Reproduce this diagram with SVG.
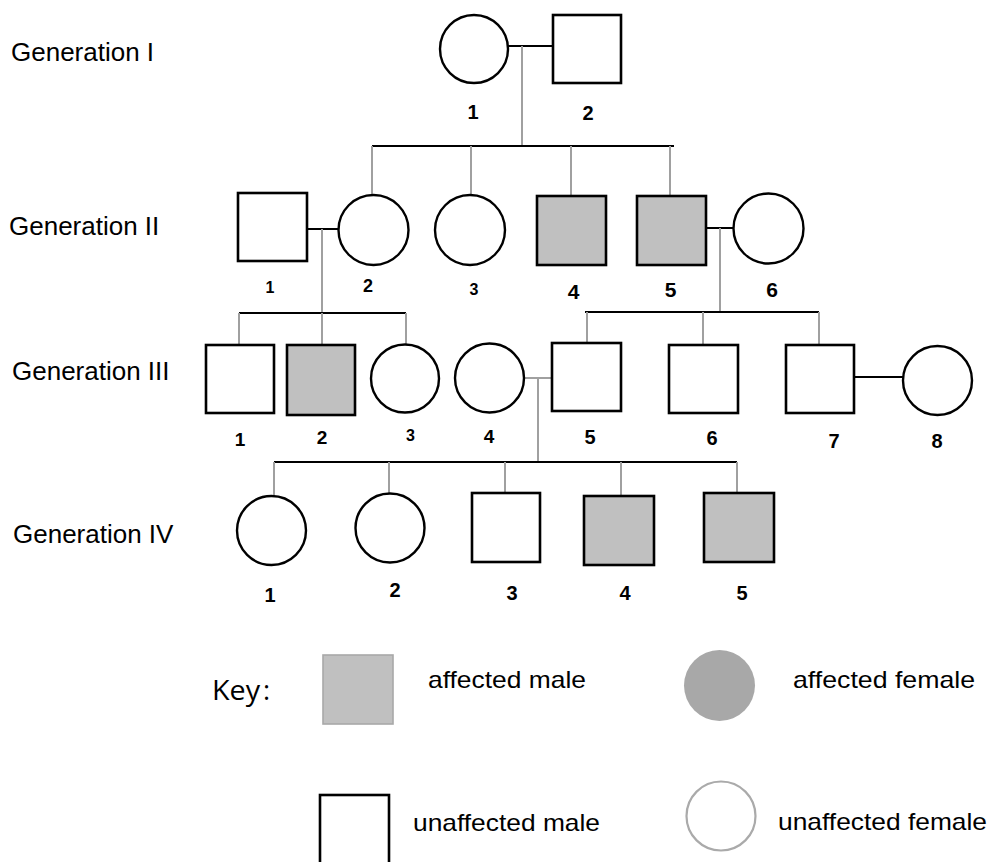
<svg xmlns="http://www.w3.org/2000/svg" width="990" height="862" viewBox="0 0 990 862">
<style>
.bg{fill:#ffffff}
.m{fill:#ffffff;stroke:#000;stroke-width:2.6}
.a{fill:#c0c0c0;stroke:#000;stroke-width:2.6}
.f{fill:#ffffff;stroke:#000;stroke-width:2.4}
.cp{stroke:#000;stroke-width:2;fill:none}
.sib{stroke:#000;stroke-width:2;fill:none}
.ch{stroke:#a0a0a0;stroke-width:2;fill:none}
.gen{font-family:"Liberation Sans",Arial,sans-serif;font-size:26px;fill:#000}
.num{font-family:"Liberation Sans",Arial,sans-serif;font-weight:bold;fill:#000;text-anchor:middle}
.key{font-family:"Liberation Sans",Arial,sans-serif;font-size:24px;fill:#000}
.keyt{font-family:"Open Sans","DejaVu Sans",sans-serif;font-size:27px;fill:#000}
</style>
<rect class="bg" x="0" y="0" width="990" height="862"/>

<g id="generation-labels">
<text class="gen" x="11" y="61">Generation I</text>
<text class="gen" x="9" y="235">Generation II</text>
<text class="gen" x="12" y="380">Generation III</text>
<text class="gen" x="13" y="543">Generation IV</text>
</g>

<g id="connectors">
<!-- Generation I -->
<line class="cp" x1="508" y1="46" x2="553" y2="46"/>
<line class="ch" x1="522" y1="46" x2="522" y2="146"/>
<line class="sib" x1="372" y1="146" x2="674" y2="146"/>
<line class="ch" x1="372" y1="146" x2="372" y2="195"/>
<line class="ch" x1="471" y1="146" x2="471" y2="195"/>
<line class="ch" x1="571" y1="146" x2="571" y2="196"/>
<line class="ch" x1="670" y1="146" x2="670" y2="196"/>
<!-- Generation II couple 1-2 -->
<line class="cp" x1="304" y1="229" x2="339" y2="229"/>
<line class="ch" x1="322" y1="229" x2="322" y2="313"/>
<line class="sib" x1="239" y1="313" x2="406" y2="313"/>
<line class="ch" x1="239" y1="313" x2="239" y2="345"/>
<line class="ch" x1="322" y1="313" x2="322" y2="345"/>
<line class="ch" x1="406" y1="313" x2="406" y2="345"/>
<!-- Generation II couple 5-6 -->
<line class="cp" x1="703" y1="228" x2="734" y2="228"/>
<line class="ch" x1="720" y1="228" x2="720" y2="312"/>
<line class="sib" x1="585" y1="312" x2="819" y2="312"/>
<line class="ch" x1="587" y1="312" x2="587" y2="343"/>
<line class="ch" x1="703" y1="312" x2="703" y2="345"/>
<line class="ch" x1="819" y1="312" x2="819" y2="345"/>
<!-- Generation III couple 4-5 -->
<line class="ch" x1="524" y1="378" x2="552" y2="378"/>
<line class="ch" x1="538" y1="378" x2="538" y2="462"/>
<line class="sib" x1="274" y1="462" x2="737" y2="462"/>
<line class="ch" x1="274" y1="462" x2="274" y2="496"/>
<line class="ch" x1="389" y1="462" x2="389" y2="494"/>
<line class="ch" x1="505" y1="462" x2="505" y2="493"/>
<line class="ch" x1="621" y1="462" x2="621" y2="496"/>
<line class="ch" x1="737" y1="462" x2="737" y2="493"/>
<!-- Generation III couple 7-8 -->
<line class="cp" x1="852" y1="377" x2="903" y2="377"/>
</g>

<!-- Generation I -->
<g id="I-1"><circle class="f" cx="474" cy="49" r="34"/><text class="num" x="473" y="119" font-size="20">1</text></g>
<g id="I-2"><rect class="m" x="553" y="15" width="68" height="68"/><text class="num" x="588" y="120" font-size="20">2</text></g>

<!-- Generation II -->
<g id="II-1"><rect class="m" x="238" y="193" width="69" height="68"/><text class="num" x="270" y="293" font-size="16">1</text></g>
<g id="II-2"><circle class="f" cx="373.5" cy="230" r="35"/><text class="num" x="368" y="292" font-size="18">2</text></g>
<g id="II-3"><circle class="f" cx="470" cy="230" r="35"/><text class="num" x="474" y="295" font-size="16">3</text></g>
<g id="II-4"><rect class="a" x="537" y="196" width="69" height="69"/><text class="num" x="573.5" y="299" font-size="21">4</text></g>
<g id="II-5"><rect class="a" x="637" y="196" width="69" height="69"/><text class="num" x="670.5" y="297" font-size="21">5</text></g>
<g id="II-6"><circle class="f" cx="768.5" cy="228.5" r="35"/><text class="num" x="772" y="297" font-size="21">6</text></g>

<!-- Generation III -->
<g id="III-1"><rect class="m" x="206" y="345" width="68" height="68"/><text class="num" x="240" y="446" font-size="19">1</text></g>
<g id="III-2"><rect class="a" x="287" y="345" width="68" height="70"/><text class="num" x="322" y="444" font-size="19">2</text></g>
<g id="III-3"><circle class="f" cx="405" cy="378.5" r="34"/><text class="num" x="410.5" y="441" font-size="16">3</text></g>
<g id="III-4"><circle class="f" cx="489.5" cy="378" r="34.5"/><text class="num" x="489" y="443" font-size="19">4</text></g>
<g id="III-5"><rect class="m" x="552" y="343" width="69" height="68"/><text class="num" x="590" y="444" font-size="20">5</text></g>
<g id="III-6"><rect class="m" x="669" y="345" width="69" height="68"/><text class="num" x="712" y="445" font-size="20">6</text></g>
<g id="III-7"><rect class="m" x="786" y="345" width="68" height="68"/><text class="num" x="834" y="448" font-size="20">7</text></g>
<g id="III-8"><circle class="f" cx="937.5" cy="380.5" r="34.5"/><text class="num" x="937" y="448" font-size="20">8</text></g>

<!-- Generation IV -->
<g id="IV-1"><circle class="f" cx="271.5" cy="530.5" r="34.5"/><text class="num" x="270" y="602" font-size="20">1</text></g>
<g id="IV-2"><circle class="f" cx="390" cy="528" r="34.5"/><text class="num" x="395" y="597" font-size="20">2</text></g>
<g id="IV-3"><rect class="m" x="472" y="493" width="68" height="69"/><text class="num" x="512" y="600" font-size="20">3</text></g>
<g id="IV-4"><rect class="a" x="584" y="496" width="70" height="69"/><text class="num" x="625" y="600" font-size="20">4</text></g>
<g id="IV-5"><rect class="a" x="704" y="493" width="70" height="69"/><text class="num" x="742" y="600" font-size="20">5</text></g>

<!-- Key -->
<g id="key">
<text class="keyt" x="212" y="700" textLength="48" lengthAdjust="spacingAndGlyphs">Key</text>
<text class="keyt" x="263" y="700">:</text>
<g id="key-affected-male"><rect x="323" y="655" width="70" height="69" fill="#c0c0c0" stroke="#a8a8a8" stroke-width="1.6"/><text class="key" x="428" y="688" textLength="158" lengthAdjust="spacingAndGlyphs">affected male</text></g>
<g id="key-affected-female"><circle cx="719.5" cy="685.5" r="35.5" fill="#a8a8a8"/><text class="key" x="793" y="688" textLength="182" lengthAdjust="spacingAndGlyphs">affected female</text></g>
<g id="key-unaffected-male"><rect x="320" y="795" width="69" height="80" fill="#ffffff" stroke="#000" stroke-width="2.6"/><text class="key" x="413" y="831" textLength="187" lengthAdjust="spacingAndGlyphs">unaffected male</text></g>
<g id="key-unaffected-female"><circle cx="721" cy="816" r="34.5" fill="#ffffff" stroke="#aaaaaa" stroke-width="2.2"/><text class="key" x="778" y="830" textLength="209" lengthAdjust="spacingAndGlyphs">unaffected female</text></g>
</g>
</svg>
